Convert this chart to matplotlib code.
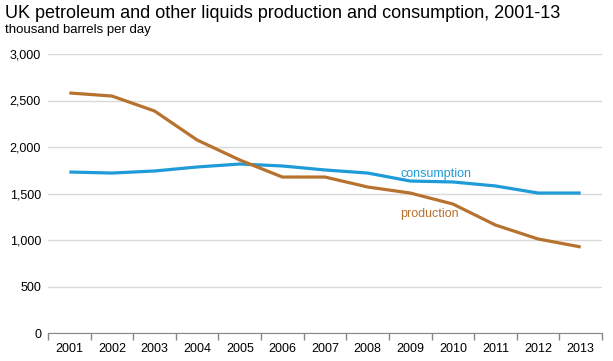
import numpy as np
import matplotlib.pyplot as plt

plt.rcParams['font.family'] = ['Liberation Sans', 'DejaVu Sans']

years = ['2001', '2002', '2003', '2004', '2005', '2006', '2007',
         '2008', '2009', '2010', '2011', '2012', '2013']
production = [2581, 2548, 2387, 2075, 1860, 1677, 1677, 1570, 1505, 1387, 1161, 1011, 925]
consumption = [1731, 1720, 1742, 1785, 1817, 1796, 1753, 1720, 1634, 1624, 1581, 1505, 1505]

c_cons = '#1f9bd7'
c_prod = '#b7722f'

fig = plt.figure(figsize=(6.13, 3.61), dpi=100)
ax = fig.add_axes([48/613, 28/361, 554/613, 279/361])

x = np.arange(len(years))
ax.plot(x, consumption, color=c_cons, lw=2.3, solid_capstyle='butt')
ax.plot(x, production, color=c_prod, lw=2.3, solid_capstyle='butt')

ax.set_xlim(-0.5, len(years) - 0.5)
ax.set_ylim(0, 3000)
ax.set_yticks(np.arange(0, 3001, 500))
ax.set_yticklabels([f'{v:,}' for v in range(0, 3001, 500)])
ax.yaxis.grid(True, color='#d9d9d9', lw=1)
ax.set_axisbelow(True)
ax.tick_params(axis='y', length=0, pad=5, labelsize=9, colors='black')

ax.set_xticks(x)
ax.set_xticklabels(years)
ax.set_xticks(np.arange(-0.5, len(years)), minor=True)
ax.tick_params(axis='x', which='major', length=0, pad=7, labelsize=9)
ax.tick_params(axis='x', which='minor', length=5, color='#888888', width=1)

for s in ['top', 'right', 'left']:
    ax.spines[s].set_visible(False)
ax.spines['bottom'].set_color('#888888')

ax.text(7.76, 1710, 'consumption', color=c_cons, fontsize=9, va='center')
ax.text(7.76, 1280, 'production', color=c_prod, fontsize=9, va='center')

fig.text(5/613, 1 - 14/361, 'UK petroleum and other liquids production and consumption, 2001-13',
         fontsize=13, va='center', ha='left')
fig.text(5/613, 1 - 30/361, 'thousand barrels per day', fontsize=9.5, va='center', ha='left')

fig.savefig('out.png', dpi=100)
